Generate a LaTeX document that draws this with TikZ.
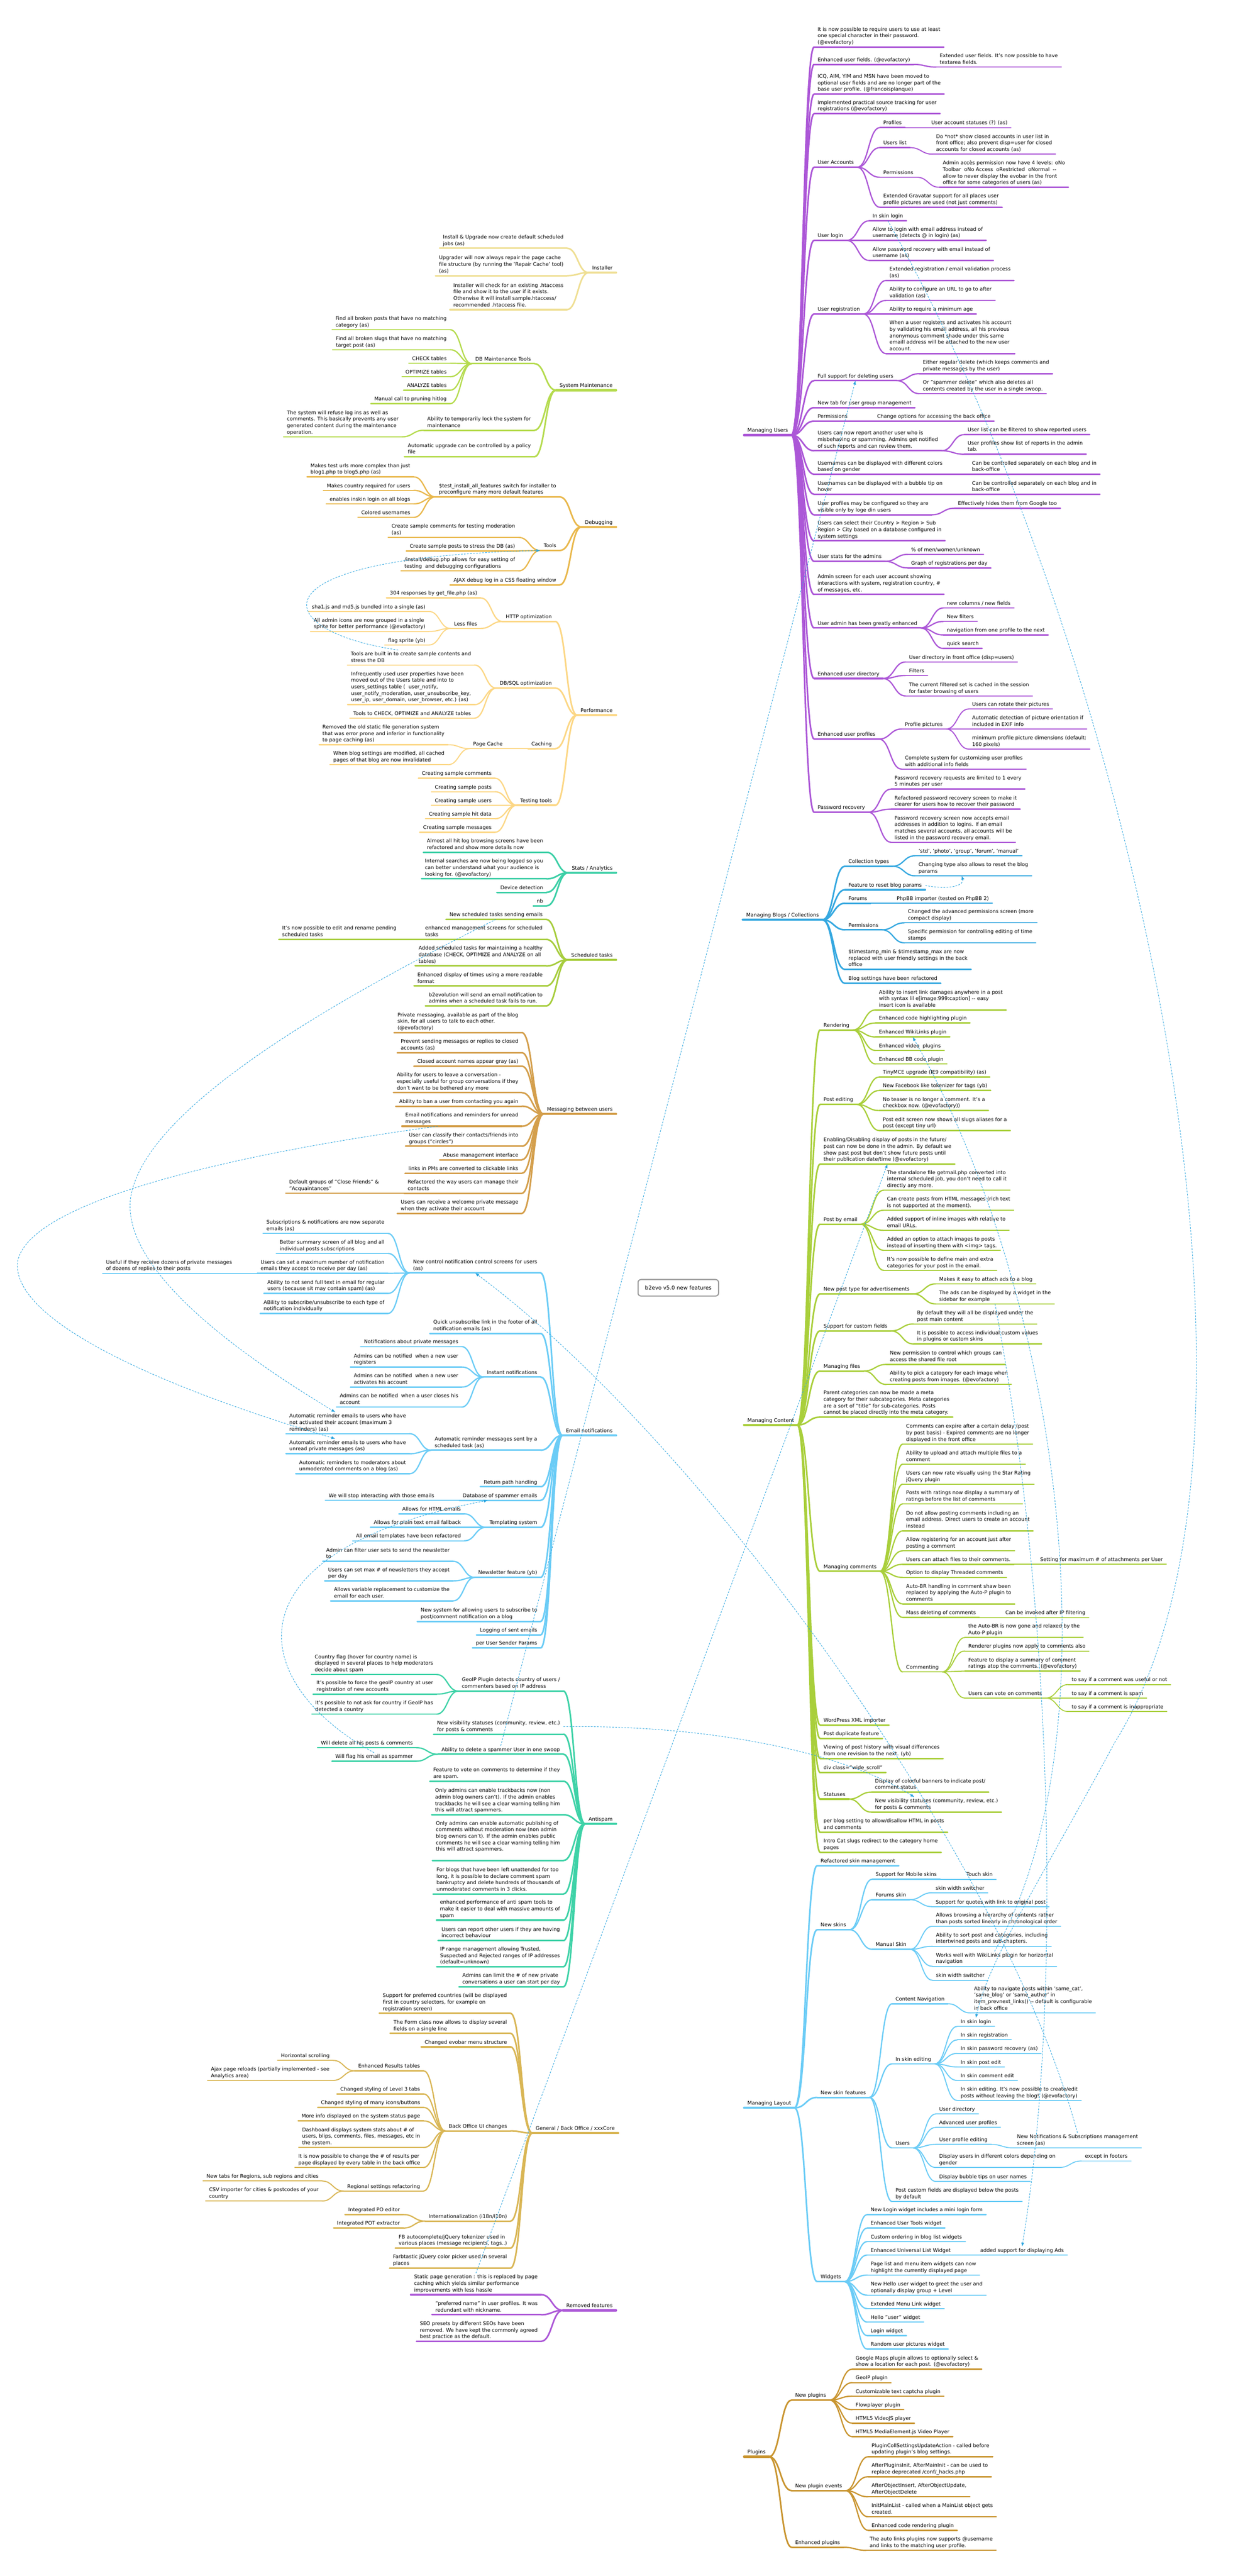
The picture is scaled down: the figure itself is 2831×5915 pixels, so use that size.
\documentclass[tikz,border=0pt]{standalone}
\usepackage{fontspec}
\setmainfont{DejaVu Sans}
\usetikzlibrary{calc,arrows.meta}
\pgfdeclarelayer{bg}
\pgfsetlayers{bg,main}
\definecolor{cMU}{HTML}{AC57D7}
\definecolor{cMB}{HTML}{35A8E0}
\definecolor{cMC}{HTML}{A9CF3B}
\definecolor{cML}{HTML}{6BCCF6}
\definecolor{cPL}{HTML}{C99530}
\definecolor{cIN}{HTML}{EFDF94}
\definecolor{cSM}{HTML}{B5DB4E}
\definecolor{cDB}{HTML}{E9B84C}
\definecolor{cPF}{HTML}{FCD785}
\definecolor{cSA}{HTML}{3BCFA6}
\definecolor{cST}{HTML}{A7CD3D}
\definecolor{cMS}{HTML}{D49F4C}
\definecolor{cEN}{HTML}{6BCCF6}
\definecolor{cAS}{HTML}{3ED2A7}
\definecolor{cGB}{HTML}{D9B655}
\definecolor{cLK}{HTML}{2CA5DF}
\definecolor{cRB}{HTML}{9A9A9A}
\tikzset{
  nd/.style={inner xsep=8pt,inner ysep=3.8pt,outer sep=0pt,align=left,
    font=\fontsize{11.6}{15}\selectfont,text=black,
    execute at end node={\rule[-3pt]{0pt}{3pt}}},
  rootnd/.style={draw=cRB,line width=2.5pt,rounded corners=7pt,fill=white,
    minimum width=185pt,minimum height=38pt,font=\fontsize{12.3}{15}\selectfont},
  l1/.style={line width=5pt,line cap=round},
  l2/.style={line width=3.6pt,line cap=round},
  l3/.style={line width=2.9pt,line cap=round},
  l4/.style={line width=2.4pt,line cap=round},
  l5/.style={line width=2.1pt,line cap=round},
  bMU/.style={draw=cMU}, bMB/.style={draw=cMB}, bMC/.style={draw=cMC},
  bML/.style={draw=cML}, bPL/.style={draw=cPL}, bIN/.style={draw=cIN},
  bSM/.style={draw=cSM}, bDB/.style={draw=cDB}, bPF/.style={draw=cPF},
  bSA/.style={draw=cSA}, bST/.style={draw=cST}, bMS/.style={draw=cMS},
  bEN/.style={draw=cEN}, bAS/.style={draw=cAS}, bGB/.style={draw=cGB},
  lnk/.style={draw=cLK,line width=1.1pt,dash pattern=on 4pt off 3pt,
    -{Latex[length=9pt,width=7pt]}}
}
% root connector
\newcommand\RC[2]{\begin{pgfonlayer}{bg}\draw[#2] let \p1=(root.center),\p2=(#1) in
  (\p1) .. controls ({\x1+0.8*(\x2-\x1)},{\y1+0.4*(\y2-\y1)}) and ({\x1+0.6*(\x2-\x1)},\y2) .. (\p2);\end{pgfonlayer}}
% level-1 labels (right: left edge given; left: right edge given)
\newcommand\ROne[5]{\node[nd,anchor=south west] (#1) at (#2,#3) {#5};
  \draw[#4,l1] (#1.south west) -- (#1.south east); \RC{#1.south west}{#4,l1}}
\newcommand\LOne[5]{\node[nd,anchor=south east] (#1) at (#2,#3) {#5};
  \draw[#4,l1] (#1.south west) -- (#1.south east); \RC{#1.south east}{#4,l1}}
% right child: name, parent, style, y, text
\newcommand\RN[5]{%
  \path (#2.south east) ++(52,0) coordinate (#1-a);
  \node[nd,anchor=south west] (#1) at (#1-a |- 0,#4) {#5};
  \draw[#3] (#1.south west) -- (#1.south east);
  \draw[#3] let \p1=(#2.south east),\p2=(#1.south west) in
    (\p1) .. controls ({0.5*\x1+0.5*\x2},\y1) and ({0.5*\x1+0.5*\x2},\y2) .. (\p2);}
% left child
\newcommand\LN[5]{%
  \path (#2.south west) ++(-50,0) coordinate (#1-a);
  \node[nd,anchor=south east] (#1) at (#1-a |- 0,#4) {#5};
  \draw[#3] (#1.south west) -- (#1.south east);
  \draw[#3] let \p1=(#2.south west),\p2=(#1.south east) in
    (\p1) .. controls ({0.5*\x1+0.5*\x2},\y1) and ({0.5*\x1+0.5*\x2},\y2) .. (\p2);}
\begin{document}
\begin{tikzpicture}[x=1pt,y=-1pt]
\useasboundingbox (0,0) rectangle (2831,5915);
\fill[white] (0,0) rectangle (2831,5915);
\node[rootnd] (root) at (1558,2957) {b2evo v5.0 new features};

%================ MANAGING USERS
\ROne{mu}{1709}{999}{bMU}{Managing Users}
\RN{mu1}{mu}{bMU,l2}{108}{It is now possible to require users to use at least\\one special character in their password.\\(@evofactory)}
\RN{mu2}{mu}{bMU,l2}{148}{Enhanced user fields. (@evofactory)}
\RN{mu2a}{mu2}{bMU,l3}{154}{Extended user fields. It's now possible to have\\textarea fields.}
\RN{mu3}{mu}{bMU,l2}{216}{ICQ, AIM, YIM and MSN have been moved to\\optional user fields and are no longer part of the\\base user profile. (@francoisplanque)}
\RN{mu4}{mu}{bMU,l2}{261}{Implemented practical source tracking for user\\registrations (@evofactory)}
\RN{mu5}{mu}{bMU,l2}{384}{User Accounts}
\RN{mu5a}{mu5}{bMU,l3}{293}{Profiles}
\RN{mu5a1}{mu5a}{bMU,l4}{293}{User account statuses (?) (as)}
\RN{mu5b}{mu5}{bMU,l3}{339}{Users list}
\RN{mu5b1}{mu5b}{bMU,l4}{354}{Do *not* show closed accounts in user list in\\front office; also prevent disp=user for closed\\accounts for closed accounts (as)}
\RN{mu5c}{mu5}{bMU,l3}{407}{Permissions}
\RN{mu5c1}{mu5c}{bMU,l4}{430}{Admin accès permission now have 4 levels: oNo\\Toolbar\ \ oNo Access\ \ oRestricted\ \ oNormal\ \ -{}-\\allow to never display the evobar in the front\\office for some categories of users (as)}
\RN{mu5d}{mu5}{bMU,l3}{476}{Extended Gravatar support for all places user\\profile pictures are used (not just comments)}
\RN{mu6}{mu}{bMU,l2}{552}{User login}
\RN{mu6a}{mu6}{bMU,l3}{507}{In skin login}
\RN{mu6b}{mu6}{bMU,l3}{552}{Allow to login with email address instead of\\username (detects @ in login) (as)}
\RN{mu6c}{mu6}{bMU,l3}{598}{Allow password recovery with email instead of\\username (as)}
\RN{mu7}{mu}{bMU,l2}{721}{User registration}
\RN{mu7a}{mu7}{bMU,l3}{644}{Extended registration / email validation process\\(as)}
\RN{mu7b}{mu7}{bMU,l3}{690}{Ability to configure an URL to go to after\\validation (as)}
\RN{mu7c}{mu7}{bMU,l3}{721}{Ability to require a minimum age}
\RN{mu7d}{mu7}{bMU,l3}{812}{When a user registers and activates his account\\by validating his email address, all his previous\\anonymous comment shade under this same\\emaill address will be attached to the new user\\account.}
\RN{mu8}{mu}{bMU,l2}{874}{Full support for deleting users}
\RN{mu8a}{mu8}{bMU,l3}{858}{Either regular delete (which keeps comments and\\private messages by the user)}
\RN{mu8b}{mu8}{bMU,l3}{904}{Or "spammer delete" which also deletes all\\contents created by the user in a single swoop.}
\RN{mu9}{mu}{bMU,l2}{936}{New tab for user group management}
\RN{mu10}{mu}{bMU,l2}{967}{Permissions}
\RN{mu10a}{mu10}{bMU,l3}{967}{Change options for accessing the back office}
\RN{mu11}{mu}{bMU,l2}{1035}{Users can now report another user who is\\misbehaving or spamming. Admins get notified\\of such reports and can review them.}
\RN{mu11a}{mu11}{bMU,l3}{998}{User list can be filtered to show reported users}
\RN{mu11b}{mu11}{bMU,l3}{1043}{User profiles show list of reports in the admin\\tab.}
\RN{mu12}{mu}{bMU,l2}{1089}{Usernames can be displayed with different colors\\based on gender}
\RN{mu12a}{mu12}{bMU,l3}{1089}{Can be controlled separately on each blog and in\\back-office}
\RN{mu13}{mu}{bMU,l2}{1135}{Usernames can be displayed with a bubble tip on\\hover}
\RN{mu13a}{mu13}{bMU,l3}{1135}{Can be controlled separately on each blog and in\\back-office}
\RN{mu14}{mu}{bMU,l2}{1182}{User profiles may be configured so they are\\visible only by loge din users}
\RN{mu14a}{mu14}{bMU,l3}{1167}{Effectively hides them from Google too}
\RN{mu15}{mu}{bMU,l2}{1242}{Users can select their Country > Region > Sub\\Region > City based on a database configured in\\system settings}
\RN{mu16}{mu}{bMU,l2}{1289}{User stats for the admins}
\RN{mu16a}{mu16}{bMU,l3}{1273}{\% of men/women/unknown}
\RN{mu16b}{mu16}{bMU,l3}{1304}{Graph of registrations per day}
\RN{mu17}{mu}{bMU,l2}{1365}{Admin screen for each user account showing\\interactions with system, registration country, \#\\of messages, etc.}
\RN{mu18}{mu}{bMU,l2}{1442}{User admin has been greatly enhanced}
\RN{mu18a}{mu18}{bMU,l3}{1396}{new columns / new fields}
\RN{mu18b}{mu18}{bMU,l3}{1427}{New filters}
\RN{mu18c}{mu18}{bMU,l3}{1458}{navigation from one profile to the next}
\RN{mu18d}{mu18}{bMU,l3}{1489}{quick search}
\RN{mu19}{mu}{bMU,l2}{1558}{Enhanced user directory}
\RN{mu19a}{mu19}{bMU,l3}{1520}{User directory in front office (disp=users)}
\RN{mu19b}{mu19}{bMU,l3}{1551}{Filters}
\RN{mu19c}{mu19}{bMU,l3}{1598}{The current filtered set is cached in the session\\for faster browsing of users}
\RN{mu20}{mu}{bMU,l2}{1697}{Enhanced user profiles}
\RN{mu20a}{mu20}{bMU,l3}{1674}{Profile pictures}
\RN{mu20a1}{mu20a}{bMU,l4}{1628}{Users can rotate their pictures}
\RN{mu20a2}{mu20a}{bMU,l4}{1674}{Automatic detection of picture orientation if\\included in EXIF info}
\RN{mu20a3}{mu20a}{bMU,l4}{1720}{minimum profile picture dimensions (default:\\160 pixels)}
\RN{mu20b}{mu20}{bMU,l3}{1766}{Complete system for customizing user profiles\\with additional info fields}
\RN{mu21}{mu}{bMU,l2}{1865}{Password recovery}
\RN{mu21a}{mu21}{bMU,l3}{1812}{Password recovery requests are limited to 1 every\\5 minutes per user}
\RN{mu21b}{mu21}{bMU,l3}{1858}{Refactored password recovery screen to make it\\clearer for users how to recover their password}
\RN{mu21c}{mu21}{bMU,l3}{1934}{Password recovery screen now accepts email\\addresses in addition to logins. If an email\\matches several accounts, all accounts will be\\listed in the password recovery email.}

%================ MANAGING BLOGS
\ROne{mb}{1706}{2112}{bMB}{Managing Blogs / Collections}
\RN{mb1}{mb}{bMB,l2}{1989}{Collection types}
\RN{mb1a}{mb1}{bMB,l3}{1965}{'std', 'photo', 'group', 'forum', 'manual'}
\RN{mb1b}{mb1}{bMB,l3}{2011}{Changing type also allows to reset the blog\\params}
\RN{mb2}{mb}{bMB,l2}{2043}{Feature to reset blog params}
\RN{mb3}{mb}{bMB,l2}{2074}{Forums}
\RN{mb3a}{mb3}{bMB,l3}{2074}{PhpBB importer (tested on PhpBB 2)}
\RN{mb4}{mb}{bMB,l2}{2135}{Permissions}
\RN{mb4a}{mb4}{bMB,l3}{2119}{Changed the advanced permissions screen (more\\compact display)}
\RN{mb4b}{mb4}{bMB,l3}{2165}{Specific permission for controlling editing of time\\stamps}
\RN{mb5}{mb}{bMB,l2}{2226}{\$timestamp\_min \& \$timestamp\_max are now\\replaced with user friendly settings in the back\\office}
\RN{mb6}{mb}{bMB,l2}{2258}{Blog settings have been refactored}

%================ MANAGING CONTENT
\ROne{mc}{1709}{3272}{bMC}{Managing Content}
\RN{mc1}{mc}{bMC,l2}{2365}{Rendering}
\RN{mc1a}{mc1}{bMC,l3}{2319}{Ability to insert link damages anywhere in a post\\with syntax lil e[image:999:caption] -{}- easy\\insert icon is available}
\RN{mc1b}{mc1}{bMC,l3}{2349}{Enhanced code highlighting plugin}
\RN{mc1c}{mc1}{bMC,l3}{2381}{Enhanced WikiLinks plugin}
\RN{mc1d}{mc1}{bMC,l3}{2412}{Enhanced video\ \ plugins}
\RN{mc1e}{mc1}{bMC,l3}{2443}{Enhanced BB code plugin}
\RN{mc2}{mc}{bMC,l2}{2536}{Post editing}
\RN{mc2a}{mc2}{bMC,l3}{2473}{TinyMCE upgrade (IE9 compatibility) (as)}
\RN{mc2b}{mc2}{bMC,l3}{2504}{New Facebook like tokenizer for tags (yb)}
\RN{mc2c}{mc2}{bMC,l3}{2550}{No teaser is no longer a comment. It's a\\checkbox now. (@evofactory))}
\RN{mc2d}{mc2}{bMC,l3}{2596}{Post edit screen now shows all slugs aliases for a\\post (except tiny url)}
\RN{mc3}{mc}{bMC,l2}{2673}{Enabling/Disabling display of posts in the future/\\past can now be done in the admin. By default we\\show past post but don't show future posts until\\their publication date/time (@evofactory)}
\RN{mc4}{mc}{bMC,l2}{2811}{Post by email}
\RN{mc4a}{mc4}{bMC,l3}{2733}{The standalone file getmail.php converted into\\internal scheduled job, you don't need to call it\\directly any more.}
\RN{mc4b}{mc4}{bMC,l3}{2779}{Can create posts from HTML messages (rich text\\is not supported at the moment).}
\RN{mc4c}{mc4}{bMC,l3}{2825}{Added support of inline images with relative to\\email URLs.}
\RN{mc4d}{mc4}{bMC,l3}{2871}{Added an option to attach images to posts\\instead of inserting them with <img> tags.}
\RN{mc4e}{mc4}{bMC,l3}{2917}{It's now possible to define main and extra\\categories for your post in the email.}
\RN{mc5}{mc}{bMC,l2}{2971}{New post type for advertisements}
\RN{mc5a}{mc5}{bMC,l3}{2948}{Makes it easy to attach ads to a blog}
\RN{mc5b}{mc5}{bMC,l3}{2994}{The ads can be displayed by a widget in the\\sidebar for example}
\RN{mc6}{mc}{bMC,l2}{3056}{Support for custom fields}
\RN{mc6a}{mc6}{bMC,l3}{3040}{By default they will all be displayed under the\\post main content}
\RN{mc6b}{mc6}{bMC,l3}{3086}{It is possible to access individual custom values\\in plugins or custom skins}
\RN{mc7}{mc}{bMC,l2}{3148}{Managing files}
\RN{mc7a}{mc7}{bMC,l3}{3133}{New permission to control which groups can\\access the shared file root}
\RN{mc7b}{mc7}{bMC,l3}{3179}{Ability to pick a category for each image when\\creating posts from images. (@evofactory)}
\RN{mc8}{mc}{bMC,l2}{3254}{Parent categories can now be made a meta\\category for their subcategories. Meta categories\\are a sort of "title" for sub-categories. Posts\\cannot be placed directly into the meta category.}
\RN{mc9}{mc}{bMC,l2}{3608}{Managing comments}
\RN{mc9a}{mc9}{bMC,l3}{3316}{Comments can expire after a certain delay (post\\by post basis) - Expired comments are no longer\\displayed in the front office}
\RN{mc9b}{mc9}{bMC,l3}{3362}{Ability to upload and attach multiple files to a\\comment}
\RN{mc9c}{mc9}{bMC,l3}{3408}{Users can now rate visually using the Star Rating\\jQuery plugin}
\RN{mc9d}{mc9}{bMC,l3}{3453}{Posts with ratings now display a summary of\\ratings before the list of comments}
\RN{mc9e}{mc9}{bMC,l3}{3515}{Do not allow posting comments including an\\email address. Direct users to create an account\\instead}
\RN{mc9f}{mc9}{bMC,l3}{3561}{Allow registering for an account just after\\posting a comment}
\RN{mc9g}{mc9}{bMC,l3}{3592}{Users can attach files to their comments.}
\RN{mc9g1}{mc9g}{bMC,l4}{3592}{Setting for maximum \# of attachments per User}
\RN{mc9h}{mc9}{bMC,l3}{3622}{Option to display Threaded comments}
\RN{mc9i}{mc9}{bMC,l3}{3683}{Auto-BR handling in comment shaw been\\replaced by applying the Auto-P plugin to\\comments}
\RN{mc9j}{mc9}{bMC,l3}{3714}{Mass deleting of comments}
\RN{mc9j1}{mc9j}{bMC,l4}{3714}{Can be invoked after IP filtering}
\RN{mc9k}{mc9}{bMC,l3}{3839}{Commenting}
\RN{mc9k1}{mc9k}{bMC,l4}{3760}{the Auto-BR is now gone and relaxed by the\\Auto-P plugin}
\RN{mc9k2}{mc9k}{bMC,l4}{3791}{Renderer plugins now apply to comments also}
\RN{mc9k3}{mc9k}{bMC,l4}{3837}{Feature to display a summary of comment\\ratings atop the comments. (@evofactory)}
\RN{mc9k4}{mc9k}{bMC,l4}{3899}{Users can vote on comments}
\RN{mc9k4a}{mc9k4}{bMC,l5}{3868}{to say if a comment was useful or not}
\RN{mc9k4b}{mc9k4}{bMC,l5}{3899}{to say if a comment is spam}
\RN{mc9k4c}{mc9k4}{bMC,l5}{3930}{to say if a comment is inappropriate}
\RN{mc10}{mc}{bMC,l2}{3961}{WordPress XML importer}
\RN{mc11}{mc}{bMC,l2}{3992}{Post duplicate feature}
\RN{mc12}{mc}{bMC,l2}{4038}{Viewing of post history with visual differences\\from one revision to the next. (yb)}
\RN{mc13}{mc}{bMC,l2}{4070}{div class="wide\_scroll"}
\RN{mc14}{mc}{bMC,l2}{4131}{Statuses}
\RN{mc14a}{mc14}{bMC,l3}{4115}{Display of colorful banners to indicate post/\\comment status}
\RN{mc14b}{mc14}{bMC,l3}{4161}{New visibility statuses (community, review, etc.)\\for posts \& comments}
\RN{mc15}{mc}{bMC,l2}{4207}{per blog setting to allow/disallow HTML in posts\\and comments}
\RN{mc16}{mc}{bMC,l2}{4253}{Intro Cat slugs redirect to the category home\\pages}

%================ MANAGING LAYOUT
\ROne{ml}{1709}{4840}{bML}{Managing Layout}
\RN{ml1}{ml}{bML,l2}{4284}{Refactored skin management}
\RN{ml2}{ml}{bML,l2}{4431}{New skins}
\RN{ml2a}{ml2}{bML,l3}{4315}{Support for Mobile skins}
\RN{ml2a1}{ml2a}{bML,l4}{4315}{Touch skin}
\RN{ml2b}{ml2}{bML,l3}{4362}{Forums skin}
\RN{ml2b1}{ml2b}{bML,l4}{4346}{skin width switcher}
\RN{ml2b2}{ml2b}{bML,l4}{4378}{Support for quotes with link to original post}
\RN{ml2c}{ml2}{bML,l3}{4476}{Manual Skin}
\RN{ml2c1}{ml2c}{bML,l4}{4423}{Allows browsing a hierarchy of contents rather\\than posts sorted linearly in chronological order}
\RN{ml2c2}{ml2c}{bML,l4}{4469}{Ability to sort post and categories, including\\intertwined posts and sub-chapters.}
\RN{ml2c3}{ml2c}{bML,l4}{4515}{Works well with WikiLinks plugin for horizontal\\navigation}
\RN{ml2c4}{ml2c}{bML,l4}{4547}{skin width switcher}
\RN{ml3}{ml}{bML,l2}{4816}{New skin features}
\RN{ml3a}{ml3}{bML,l3}{4601}{Content Navigation}
\RN{ml3a1}{ml3a}{bML,l4}{4622}{Ability to navigate posts within 'same\_cat',\\'same\_blog' or 'same\_author' in\\item\_prevnext\_links() -{}- default is configurable\\in back office}
\RN{ml3b}{ml3}{bML,l3}{4739}{In skin editing}
\RN{ml3b1}{ml3b}{bML,l4}{4653}{In skin login}
\RN{ml3b2}{ml3b}{bML,l4}{4684}{In skin registration}
\RN{ml3b3}{ml3b}{bML,l4}{4715}{In skin password recovery (as)}
\RN{ml3b4}{ml3b}{bML,l4}{4746}{In skin post edit}
\RN{ml3b5}{ml3b}{bML,l4}{4777}{In skin comment edit}
\RN{ml3b6}{ml3b}{bML,l4}{4823}{In skin editing. It's now possible to create/edit\\posts without leaving the blog! (@evofactory)}
\RN{ml3c}{ml3}{bML,l3}{4932}{Users}
\RN{ml3c1}{ml3c}{bML,l4}{4854}{User directory}
\RN{ml3c2}{ml3c}{bML,l4}{4885}{Advanced user profiles}
\RN{ml3c3}{ml3c}{bML,l4}{4924}{User profile editing}
\RN{ml3c3a}{ml3c3}{bML,l5}{4932}{New Notifications \& Subscriptions management\\screen (as)}
\RN{ml3c4}{ml3c}{bML,l4}{4977}{Display users in different colors depending on\\gender}
\RN{ml3c4a}{ml3c4}{bML,l5}{4962}{except in footers}
\RN{ml3c5}{ml3c}{bML,l4}{5009}{Display bubble tips on user names}
\RN{ml3d}{ml3}{bML,l3}{5055}{Post custom fields are displayed below the posts\\by default}
\RN{ml4}{ml}{bML,l2}{5239}{Widgets}
\RN{ml4a}{ml4}{bML,l3}{5085}{New Login widget includes a mini login form}
\RN{ml4b}{ml4}{bML,l3}{5116}{Enhanced User Tools widget}
\RN{ml4c}{ml4}{bML,l3}{5147}{Custom ordering in blog list widgets}
\RN{ml4d}{ml4}{bML,l3}{5178}{Enhanced Universal List Widget}
\RN{ml4d1}{ml4d}{bML,l4}{5178}{added support for displaying Ads}
\RN{ml4e}{ml4}{bML,l3}{5224}{Page list and menu item widgets can now\\highlight the currently displayed page}
\RN{ml4f}{ml4}{bML,l3}{5270}{New Hello user widget to greet the user and\\optionally display group + Level}
\RN{ml4g}{ml4}{bML,l3}{5301}{Extended Menu Link widget}
\RN{ml4h}{ml4}{bML,l3}{5332}{Hello "user" widget}
\RN{ml4i}{ml4}{bML,l3}{5363}{Login widget}
\RN{ml4j}{ml4}{bML,l3}{5394}{Random user pictures widget}

%================ PLUGINS
\ROne{pl}{1709}{5641}{bPL}{Plugins}
\RN{pl1}{pl}{bPL,l2}{5511}{New plugins}
\RN{pl1a}{pl1}{bPL,l3}{5440}{Google Maps plugin allows to optionally select \&\\show a location for each post. (@evofactory)}
\RN{pl1b}{pl1}{bPL,l3}{5471}{GeoIP plugin}
\RN{pl1c}{pl1}{bPL,l3}{5502}{Customizable text captcha plugin}
\RN{pl1d}{pl1}{bPL,l3}{5533}{Flowplayer plugin}
\RN{pl1e}{pl1}{bPL,l3}{5564}{HTML5 VideoJS player}
\RN{pl1f}{pl1}{bPL,l3}{5595}{HTML5 MediaElement.js Video Player}
\RN{pl2}{pl}{bPL,l2}{5719}{New plugin events}
\RN{pl2a}{pl2}{bPL,l3}{5641}{PluginCollSettingsUpdateAction - called before\\updating plugin's blog settings.}
\RN{pl2b}{pl2}{bPL,l3}{5687}{AfterPluginsInit, AfterMainInit - can be used to\\replace deprecated /conf/\_hacks.php}
\RN{pl2c}{pl2}{bPL,l3}{5733}{AfterObjectInsert, AfterObjectUpdate,\\AfterObjectDelete}
\RN{pl2d}{pl2}{bPL,l3}{5779}{InitMainList - called when a MainList object gets\\created.}
\RN{pl2e}{pl2}{bPL,l3}{5810}{Enhanced code rendering plugin}
\RN{pl3}{pl}{bPL,l2}{5849}{Enhanced plugins}
\RN{pl3a}{pl3}{bPL,l3}{5856}{The auto links plugins now supports @username\\and links to the matching user profile.}

%================ INSTALLER
\LOne{nIN}{1415}{626}{bIN}{Installer}
\LN{in1}{nIN}{bIN,l2}{570}{Install \& Upgrade now create default scheduled\\jobs (as)}
\LN{in2}{nIN}{bIN,l2}{633}{Upgrader will now always repair the page cache\\file structure (by running the 'Repair Cache' tool)\\(as)}
\LN{in3}{nIN}{bIN,l2}{711}{Installer will check for an existing .htaccess\\file and show it to the user if it exists.\\Otherwise it will install sample.htaccess/\\recommended .htaccess file.}

%================ SYSTEM MAINTENANCE
\LOne{nSM}{1415}{896}{bSM}{System Maintenance}
\LN{sm1}{nSM}{bSM,l2}{835}{DB Maintenance Tools}
\LN{sm1a}{sm1}{bSM,l3}{757}{Find all broken posts that have no matching\\category (as)}
\LN{sm1b}{sm1}{bSM,l3}{803}{Find all broken slugs that have no matching\\target post (as)}
\LN{sm1c}{sm1}{bSM,l3}{834}{CHECK tables}
\LN{sm1d}{sm1}{bSM,l3}{865}{OPTIMIZE tables}
\LN{sm1e}{sm1}{bSM,l3}{896}{ANALYZE tables}
\LN{sm1f}{sm1}{bSM,l3}{927}{Manual call to pruning hitlog}
\LN{sm2}{nSM}{bSM,l2}{988}{Ability to temporarily lock the system for\\maintenance}
\LN{sm2a}{sm2}{bSM,l3}{1003}{The system will refuse log ins as well as\\comments. This basically prevents any user\\generated content during the maintenance\\operation.}
\LN{sm3}{nSM}{bSM,l2}{1049}{Automatic upgrade can be controlled by a policy\\file}

%================ DEBUGGING
\LOne{nDB}{1415}{1210}{bDB}{Debugging}
\LN{db1}{nDB}{bDB,l2}{1141}{\$test\_install\_all\_features switch for installer to\\preconfigure many more default features}
\LN{db1a}{db1}{bDB,l3}{1095}{Makes test urls more complex than just\\blog1.php to blog5.php (as)}
\LN{db1b}{db1}{bDB,l3}{1126}{Makes country required for users}
\LN{db1c}{db1}{bDB,l3}{1157}{enables inskin login on all blogs}
\LN{db1d}{db1}{bDB,l3}{1188}{Colored usernames}
\LN{db2}{nDB}{bDB,l2}{1264}{Tools}
\LN{db2a}{db2}{bDB,l3}{1234}{Create sample comments for testing moderation\\(as)}
\LN{db2b}{db2}{bDB,l3}{1265}{Create sample posts to stress the DB (as)}
\LN{db2c}{db2}{bDB,l3}{1311}{/install/debug.php allows for easy setting of\\testing\ \ and debugging configurations}
\LN{db3}{nDB}{bDB,l2}{1343}{AJAX debug log in a CSS floating window}

%================ PERFORMANCE
\LOne{nPF}{1415}{1642}{bPF}{Performance}
\LN{pf1}{nPF}{bPF,l2}{1427}{HTTP optimization}
\LN{pf1a}{pf1}{bPF,l3}{1373}{304 responses by get\_file.php (as)}
\LN{pf1b}{pf1}{bPF,l3}{1443}{Less files}
\LN{pf1b1}{pf1b}{bPF,l4}{1404}{sha1.js and md5.js bundled into a single (as)}
\LN{pf1b2}{pf1b}{bPF,l4}{1450}{All admin icons are now grouped in a single\\sprite for better performance (@evofactory)}
\LN{pf1b3}{pf1b}{bPF,l4}{1481}{flag sprite (yb)}
\LN{pf2}{nPF}{bPF,l2}{1580}{DB/SQL optimization}
\LN{pf2a}{pf2}{bPF,l3}{1527}{Tools are built in to create sample contents and\\stress the DB}
\LN{pf2b}{pf2}{bPF,l3}{1618}{Infrequently used user properties have been\\moved out of the Users table and into to\\users\_settings table (\ \ user\_notify,\\user\_notify\_moderation, user\_unsubscribe\_key,\\user\_ip, user\_domain, user\_browser, etc.) (as)}
\LN{pf2c}{pf2}{bPF,l3}{1649}{Tools to CHECK, OPTIMIZE and ANALYZE tables}
\LN{pf3}{nPF}{bPF,l2}{1719}{Caching}
\LN{pf3a}{pf3}{bPF,l3}{1719}{Page Cache}
\LN{pf3a1}{pf3a}{bPF,l4}{1710}{Removed the old static file generation system\\that was error prone and inferior in functionality\\to page caching (as)}
\LN{pf3a2}{pf3a}{bPF,l4}{1756}{When blog settings are modified, all cached\\pages of that blog are now invalidated}
\LN{pf4}{nPF}{bPF,l2}{1849}{Testing tools}
\LN{pf4a}{pf4}{bPF,l3}{1787}{Creating sample comments}
\LN{pf4b}{pf4}{bPF,l3}{1818}{Creating sample posts}
\LN{pf4c}{pf4}{bPF,l3}{1849}{Creating sample users}
\LN{pf4d}{pf4}{bPF,l3}{1880}{Creating sample hit data}
\LN{pf4e}{pf4}{bPF,l3}{1911}{Creating sample messages}

%================ STATS
\LOne{nSA}{1415}{2004}{bSA}{Stats / Analytics}
\LN{sa1}{nSA}{bSA,l2}{1957}{Almost all hit log browsing screens have been\\refactored and show more details now}
\LN{sa2}{nSA}{bSA,l2}{2018}{Internal searches are now being logged so you\\can better understand what your audience is\\looking for. (@evofactory)}
\LN{sa3}{nSA}{bSA,l2}{2049}{Device detection}
\LN{sa4}{nSA}{bSA,l2}{2080}{nb}

%================ SCHEDULED TASKS
\LOne{nST}{1415}{2204}{bST}{Scheduled tasks}
\LN{st1}{nST}{bST,l2}{2111}{New scheduled tasks sending emails}
\LN{st2}{nST}{bST,l2}{2157}{enhanced management screens for scheduled\\tasks}
\LN{st2a}{st2}{bST,l3}{2157}{It's now possible to edit and rename pending\\scheduled tasks}
\LN{st3}{nST}{bST,l2}{2218}{Added scheduled tasks for maintaining a healthy\\database (CHECK, OPTIMIZE and ANALYZE on all\\tables)}
\LN{st4}{nST}{bST,l2}{2264}{Enhanced display of times using a more readable\\format}
\LN{st5}{nST}{bST,l2}{2310}{b2evolution will send an email notification to\\admins when a scheduled task fails to run.}

%================ MESSAGING
\LOne{nMS}{1415}{2558}{bMS}{Messaging between users}
\LN{ms1}{nMS}{bMS,l2}{2371}{Private messaging, available as part of the blog\\skin, for all users to talk to each other.\\(@evofactory)}
\LN{ms2}{nMS}{bMS,l2}{2417}{Prevent sending messages or replies to closed\\accounts (as)}
\LN{ms3}{nMS}{bMS,l2}{2448}{Closed account names appear gray (as)}
\LN{ms4}{nMS}{bMS,l2}{2509}{Ability for users to leave a conversation -\\especially useful for group conversations if they\\don't want to be bothered any more}
\LN{ms5}{nMS}{bMS,l2}{2540}{Ability to ban a user from contacting you again}
\LN{ms6}{nMS}{bMS,l2}{2586}{Email notifications and reminders for unread\\messages}
\LN{ms7}{nMS}{bMS,l2}{2632}{User can classify their contacts/friends into\\groups ("circles")}
\LN{ms8}{nMS}{bMS,l2}{2663}{Abuse management interface}
\LN{ms9}{nMS}{bMS,l2}{2694}{links in PMs are converted to clickable links}
\LN{ms10}{nMS}{bMS,l2}{2740}{Refactored the way users can manage their\\contacts}
\LN{ms10a}{ms10}{bMS,l3}{2740}{Default groups of "Close Friends" \&\\"Acquaintances"}
\LN{ms11}{nMS}{bMS,l2}{2786}{Users can receive a welcome private message\\when they activate their account}

%================ EMAIL NOTIFICATIONS
\LOne{nEN}{1415}{3296}{bEN}{Email notifications}
\LN{en1}{nEN}{bEN,l2}{2923}{New control notification control screens for users\\(as)}
\LN{en1a}{en1}{bEN,l3}{2832}{Subscriptions \& notifications are now separate\\emails (as)}
\LN{en1b}{en1}{bEN,l3}{2878}{Better summary screen of all blog and all\\individual posts subscriptions}
\LN{en1c}{en1}{bEN,l3}{2924}{Users can set a maximum number of notification\\emails they accept to receive per day (as)}
\LN{en1c1}{en1c}{bEN,l4}{2924}{Useful if they receive dozens of private messages\\of dozens of replies to their posts}
\LN{en1d}{en1}{bEN,l3}{2970}{Ability to not send full text in email for regular\\users (because sit may contain spam) (as)}
\LN{en1e}{en1}{bEN,l3}{3016}{ABility to subscribe/unsubscribe to each type of\\notification individually}
\LN{en2}{nEN}{bEN,l2}{3062}{Quick unsubscribe link in the footer of all\\notification emails (as)}
\LN{en3}{nEN}{bEN,l2}{3162}{Instant notifications}
\LN{en3a}{en3}{bEN,l3}{3092}{Notifications about private messages}
\LN{en3b}{en3}{bEN,l3}{3139}{Admins can be notified\ \ when a new user\\registers}
\LN{en3c}{en3}{bEN,l3}{3185}{Admins can be notified\ \ when a new user\\activates his account}
\LN{en3d}{en3}{bEN,l3}{3231}{Admins can be notified\ \ when a user closes his\\account}
\LN{en4}{nEN}{bEN,l2}{3330}{Automatic reminder messages sent by a\\scheduled task (as)}
\LN{en4a}{en4}{bEN,l3}{3292}{Automatic reminder emails to users who have\\not activated their account (maximum 3\\reminders) (as)}
\LN{en4b}{en4}{bEN,l3}{3338}{Automatic reminder emails to users who have\\unread private messages (as)}
\LN{en4c}{en4}{bEN,l3}{3384}{Automatic reminders to moderators about\\unmoderated comments on a blog (as)}
\LN{en5}{nEN}{bEN,l2}{3414}{Return path handling}
\LN{en6}{nEN}{bEN,l2}{3445}{Database of spammer emails}
\LN{en6a}{en6}{bEN,l3}{3445}{We will stop interacting with those emails}
\LN{en7}{nEN}{bEN,l2}{3507}{Templating system}
\LN{en7a}{en7}{bEN,l3}{3476}{Allows for HTML emails}
\LN{en7b}{en7}{bEN,l3}{3507}{Allows for plain text email fallback}
\LN{en7c}{en7}{bEN,l3}{3538}{All email templates have been refactored}
\LN{en8}{nEN}{bEN,l2}{3622}{Newsletter feature (yb)}
\LN{en8a}{en8}{bEN,l3}{3585}{Admin can filter user sets to send the newsletter\\to}
\LN{en8b}{en8}{bEN,l3}{3630}{Users can set max \# of newsletters they accept\\per day}
\LN{en8c}{en8}{bEN,l3}{3676}{Allows variable replacement to customize the\\email for each user.}
\LN{en9}{nEN}{bEN,l2}{3723}{New system for allowing users to subscribe to\\post/comment notification on a blog}
\LN{en10}{nEN}{bEN,l2}{3754}{Logging of sent emails}
\LN{en11}{nEN}{bEN,l2}{3784}{per User Sender Params}

%================ ANTISPAM
\LOne{nAS}{1415}{4188}{bAS}{Antispam}
\LN{as1}{nAS}{bAS,l2}{3883}{GeoIP Plugin detects country of users /\\commenters based on IP address}
\LN{as1a}{as1}{bAS,l3}{3845}{Country flag (hover for country name) is\\displayed in several places to help moderators\\decide about spam}
\LN{as1b}{as1}{bAS,l3}{3890}{It's possible to force the geoIP country at user\\registration of new accounts}
\LN{as1c}{as1}{bAS,l3}{3936}{It's possible to not ask for country if GeoIP has\\detected a country}
\LN{as2}{nAS}{bAS,l2}{3982}{New visibility statuses (community, review, etc.)\\for posts \& comments}
\LN{as3}{nAS}{bAS,l2}{4028}{Ability to delete a spammer User in one swoop}
\LN{as3a}{as3}{bAS,l3}{4013}{Will delete all his posts \& comments}
\LN{as3b}{as3}{bAS,l3}{4044}{Will flag his email as spammer}
\LN{as4}{nAS}{bAS,l2}{4090}{Feature to vote on comments to determine if they\\are spam.}
\LN{as5}{nAS}{bAS,l2}{4167}{Only admins can enable trackbacks now (non\\admin blog owners can't). If the admin enables\\trackbacks he will see a clear warning telling him\\this will attract spammers.}
\LN{as6}{nAS}{bAS,l2}{4272}{Only admins can enable automatic publishing of\\comments without moderation now (non admin\\blog owners can't). If the admin enables public\\comments he will see a clear warning telling him\\this will attract spammers.\\\mbox{}}
\LN{as7}{nAS}{bAS,l2}{4349}{For blogs that have been left unattended for too\\long, it is possible to declare comment spam\\bankruptcy and delete hundreds of thousands of\\unmoderated comments in 3 clicks.}
\LN{as8}{nAS}{bAS,l2}{4409}{enhanced performance of anti spam tools to\\make it easier to deal with massive amounts of\\spam}
\LN{as9}{nAS}{bAS,l2}{4456}{Users can report other users if they are having\\incorrect behaviour}
\LN{as10}{nAS}{bAS,l2}{4516}{IP range management allowing Trusted,\\Suspected and Rejected ranges of IP addresses\\(default=unknown)}
\LN{as11}{nAS}{bAS,l2}{4562}{Admins can limit the \# of new private\\conversations a user can start per day}

%================ GENERAL
\LOne{nGB}{1420}{4898}{bGB}{General / Back Office / xxxCore}
\LN{gb1}{nGB}{bGB,l2}{4623}{Support for preferred countries (will be displayed\\first in country selectors, for example on\\registration screen)}
\LN{gb2}{nGB}{bGB,l2}{4669}{The Form class now allows to display several\\fields on a single line}
\LN{gb3}{nGB}{bGB,l2}{4700}{Changed evobar menu structure}
\LN{gb4}{nGB}{bGB,l2}{4893}{Back Office UI changes}
\LN{gb4a}{gb4}{bGB,l3}{4755}{Enhanced Results tables}
\LN{gb4a1}{gb4a}{bGB,l4}{4731}{Horizontal scrolling}
\LN{gb4a2}{gb4a}{bGB,l4}{4777}{Ajax page reloads (partially implemented - see\\Analytics area)}
\LN{gb4b}{gb4}{bGB,l3}{4808}{Changed styling of Level 3 tabs}
\LN{gb4c}{gb4}{bGB,l3}{4839}{Changed styling of many icons/buttons}
\LN{gb4d}{gb4}{bGB,l3}{4870}{More info displayed on the system status page}
\LN{gb4e}{gb4}{bGB,l3}{4931}{Dashboard displays system stats about \# of\\users, blips, comments, files, messages, etc in\\the system.}
\LN{gb4f}{gb4}{bGB,l3}{4977}{It is now possible to change the \# of results per\\page displayed by every table in the back office}
\LN{gb4g}{gb4}{bGB,l3}{5031}{Regional settings refactoring}
\LN{gb4g1}{gb4g}{bGB,l4}{5008}{New tabs for Regions, sub regions and cities}
\LN{gb4g2}{gb4g}{bGB,l4}{5054}{CSV importer for cities \& postcodes of your\\country}
\LN{gb5}{nGB}{bGB,l2}{5100}{Internationalization (i18n/l10n)}
\LN{gb5a}{gb5}{bGB,l3}{5085}{Integrated PO editor}
\LN{gb5b}{gb5}{bGB,l3}{5116}{Integrated POT extractor}
\LN{gb6}{nGB}{bGB,l2}{5162}{FB autocomplete/jQuery tokenizer used in\\various places (message recipients, tags..)}
\LN{gb7}{nGB}{bGB,l2}{5208}{Farbtastic jQuery color picker used in several\\places}

%================ REMOVED
\LOne{nRF}{1415}{5305}{bMU}{Removed features}
\LN{rf1}{nRF}{bMU,l2}{5269}{Static page generation : this is replaced by page\\caching which yields similar performance\\improvements with less hassle}
\LN{rf2}{nRF}{bMU,l2}{5315}{"preferred name" in user profiles. It was\\redundant with nickname.}
\LN{rf3}{nRF}{bMU,l2}{5376}{SEO presets by different SEOs have been\\removed. We have kept the commonly agreed\\best practice as the default.}

%================ CROSS LINKS
\draw[lnk] (as3.north) -- (mu8.south);
\draw[lnk] (rf1.north) -- (mc3.south);
\draw[lnk] (ml3c3a.north) .. controls (2300,4250) and (1600,3300) .. (en1.south);
\draw[lnk] (as2.east) .. controls (1650,3960) and (1950,4030) .. ($(mc14b.north west)!0.33!(mc14b.north east)$);
\draw[lnk] ($(pf2a.north west)!0.4!(pf2a.north east)$) .. controls (620,1450) and (560,1280) .. (db2.south west);
\draw[lnk] (st1.south) .. controls (700,2330) and (330,2560) .. (300,2750) .. controls (280,2900) and (500,3080) .. ($(en4a.north west)!0.4!(en4a.north east)$);
\draw[lnk] ($(ms6.south west)!0.3!(ms6.south east)$) .. controls (600,2640) and (60,2750) .. (40,2900) .. controls (30,3050) and (450,3210) .. ($(en4b.north west)!0.4!(en4b.north east)$);
\draw[lnk] (as3b.north) .. controls (560,3860) and (520,3560) .. ($(en6.south west)!0.35!(en6.south east)$);
\draw[lnk] (mu6a.south) .. controls (2600,1500) and (3000,3300) .. (2561,4000) .. controls (2400,4300) and (2270,4500) .. (ml3b1.north);
\draw[lnk] (ml2c3.north) .. controls (2560,4000) and (2450,3000) .. (mc1c.south);
\draw[lnk] (mb2.east) .. controls (2190,2045) and (2215,2030) .. ($(mb1b.south west)!0.4!(mb1b.south east)$);
\draw[lnk] (mc5b.south) .. controls (2420,3700) and (2440,4600) .. (ml4d1.north);
\end{tikzpicture}
\end{document}
